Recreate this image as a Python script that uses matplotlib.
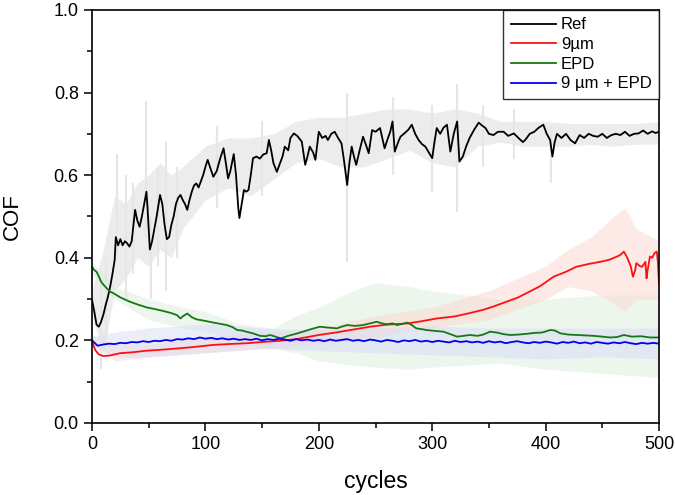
import matplotlib.pyplot as plt
from matplotlib.ticker import MultipleLocator

plt.rcParams['font.family'] = ['Liberation Sans', 'DejaVu Sans']

# ---- Ref (black) ----
ref_x = [0, 2, 4, 6, 8, 10, 12, 14, 16, 18, 20, 21, 23, 25, 27, 29, 31, 33, 35, 37,
         38, 40, 42, 44, 46, 48, 49, 51, 53, 55, 57, 60, 62, 64, 66, 68, 70, 72, 74, 76,
         78, 80, 82, 84, 86, 88, 90, 92, 94, 96, 98, 100, 102, 104, 107, 110, 113, 116, 118, 120,
         122, 125, 127, 129, 130, 132, 134, 136, 138, 140, 142, 145, 148, 151, 154, 156, 158, 160, 163, 166,
         168, 170, 173, 175, 178, 181, 185, 188, 190, 192, 195, 197, 200, 203, 206, 208, 211, 214, 217, 220,
         222, 225, 227, 229, 231, 233, 236, 239, 242, 244, 247, 250, 254, 256, 258, 261, 263, 265, 267, 270,
         272, 275, 279, 282, 285, 288, 291, 294, 297, 300, 302, 304, 307, 310, 313, 316, 319, 322, 324, 327,
         330, 333, 337, 341, 344, 347, 350, 354, 358, 363, 367, 372, 376, 380, 382, 386, 390, 394, 398, 401,
         404, 406, 408, 410, 414, 418, 422, 426, 430, 434, 438, 442, 446, 450, 454, 458, 462, 466, 470, 474,
         478, 482, 486, 490, 494, 497, 500]
ref_y = [0.298, 0.27, 0.238, 0.233, 0.245, 0.262, 0.285, 0.305, 0.33, 0.36, 0.395, 0.45, 0.43, 0.445, 0.43, 0.44, 0.435, 0.427, 0.44, 0.49,
         0.516, 0.49, 0.475, 0.50, 0.53, 0.56, 0.52, 0.42, 0.44, 0.47, 0.50, 0.552, 0.53, 0.48, 0.445, 0.45, 0.48, 0.50, 0.53, 0.545,
         0.552, 0.54, 0.53, 0.516, 0.54, 0.56, 0.575, 0.58, 0.57, 0.585, 0.60, 0.62, 0.637, 0.62, 0.596, 0.61, 0.64, 0.665, 0.63, 0.592,
         0.61, 0.651, 0.60, 0.52, 0.496, 0.53, 0.564, 0.56, 0.564, 0.60, 0.641, 0.645, 0.64, 0.65, 0.653, 0.685, 0.66, 0.629, 0.608, 0.63,
         0.645, 0.669, 0.66, 0.69, 0.701, 0.695, 0.681, 0.625, 0.645, 0.669, 0.655, 0.637, 0.705, 0.69, 0.695, 0.685, 0.70, 0.705, 0.69, 0.677,
         0.64, 0.576, 0.63, 0.669, 0.645, 0.625, 0.66, 0.693, 0.67, 0.653, 0.709, 0.705, 0.714, 0.69, 0.665, 0.69, 0.705, 0.73, 0.657, 0.68,
         0.693, 0.70, 0.71, 0.722, 0.70, 0.685, 0.675, 0.669, 0.655, 0.641, 0.68, 0.714, 0.70, 0.715, 0.722, 0.657, 0.70, 0.73, 0.633, 0.645,
         0.67, 0.69, 0.71, 0.727, 0.72, 0.714, 0.70, 0.697, 0.705, 0.705, 0.695, 0.701, 0.69, 0.68, 0.685, 0.70, 0.705, 0.715, 0.722, 0.70,
         0.685, 0.645, 0.68, 0.70, 0.69, 0.70, 0.685, 0.677, 0.697, 0.69, 0.70, 0.695, 0.693, 0.70, 0.69, 0.697, 0.70, 0.697, 0.705, 0.695,
         0.70, 0.701, 0.708, 0.70, 0.706, 0.702, 0.705]

ref_bx = [0, 10, 20, 30, 40, 50, 60, 70, 80, 100, 120, 140, 160, 180, 200, 220, 240, 260, 280, 300,
          320, 340, 360, 380, 400, 420, 440, 460, 480, 500]
ref_lo = [0.26, 0.17, 0.32, 0.35, 0.40, 0.38, 0.42, 0.40, 0.47, 0.54, 0.57, 0.55, 0.59, 0.63, 0.64, 0.62, 0.62, 0.64, 0.66, 0.63,
          0.62, 0.67, 0.68, 0.67, 0.67, 0.67, 0.675, 0.67, 0.675, 0.675]
ref_hi = [0.32, 0.42, 0.55, 0.53, 0.58, 0.60, 0.63, 0.60, 0.62, 0.67, 0.69, 0.69, 0.70, 0.73, 0.74, 0.74, 0.75, 0.76, 0.76, 0.75,
          0.76, 0.75, 0.73, 0.73, 0.73, 0.725, 0.725, 0.725, 0.725, 0.73]

# single error-bar spikes of the Ref series
spike_x = [8, 12, 22, 30, 36, 48, 52, 58, 65, 75, 110, 150, 225, 265, 300, 322, 345, 372, 405]
spike_lo = [0.13, 0.20, 0.40, 0.30, 0.36, 0.45, 0.30, 0.38, 0.32, 0.40, 0.52, 0.55, 0.39, 0.60, 0.56, 0.51, 0.62, 0.64, 0.58]
spike_hi = [0.35, 0.40, 0.65, 0.60, 0.58, 0.78, 0.50, 0.62, 0.68, 0.62, 0.72, 0.73, 0.80, 0.79, 0.77, 0.82, 0.77, 0.76, 0.72]

# ---- 9 um (red) ----
red_x = [0, 3, 6, 10, 15, 25, 35, 48, 60, 78, 90, 107, 120, 136, 150, 166, 180, 200, 215, 230,
         245, 260, 278, 290, 304, 320, 333, 345, 354, 365, 375, 383, 395, 407, 418, 427, 438, 448, 456, 463,
         466, 469, 472, 475, 477, 479, 480, 483, 485, 488, 489, 490, 492, 494, 496, 498, 499, 500]
red_y = [0.197, 0.176, 0.166, 0.162, 0.163, 0.169, 0.171, 0.175, 0.177, 0.181, 0.184, 0.189, 0.191, 0.193, 0.196, 0.199, 0.203, 0.213, 0.219, 0.226,
         0.233, 0.238, 0.241, 0.246, 0.253, 0.258, 0.266, 0.274, 0.282, 0.293, 0.303, 0.314, 0.331, 0.354, 0.366, 0.378, 0.385, 0.39, 0.395, 0.403,
         0.407, 0.415, 0.40, 0.38, 0.354, 0.37, 0.387, 0.38, 0.378, 0.39, 0.35, 0.37, 0.403, 0.40, 0.411, 0.415, 0.39, 0.338]
red_bx = [0, 20, 50, 100, 150, 200, 250, 300, 350, 400, 420, 440, 460, 470, 480, 500]
red_lo = [0.19, 0.15, 0.16, 0.17, 0.18, 0.19, 0.21, 0.23, 0.25, 0.30, 0.33, 0.32, 0.29, 0.27, 0.30, 0.30]
red_hi = [0.21, 0.19, 0.19, 0.21, 0.22, 0.23, 0.26, 0.28, 0.32, 0.38, 0.42, 0.45, 0.50, 0.52, 0.47, 0.44]

# ---- EPD (green) ----
grn_x = [0, 2, 4, 6, 8, 10, 13, 16, 19, 25, 33, 40, 48, 55, 63, 70, 75, 78, 80, 84, 88, 92, 100, 107, 113, 119,
         124, 128, 132, 136, 142, 148, 153, 157, 163, 166, 169, 173, 180, 186, 193, 201, 208, 216, 220, 225, 232,
         239, 245, 251, 256, 260, 265, 269, 274, 278, 282, 286, 291, 295, 302, 310, 316, 322, 328, 333, 340, 345,
         351, 357, 363, 369, 376, 384, 390, 397, 404, 408, 413, 420, 428, 435, 442, 450, 457, 463, 469, 476, 484,
         492, 500]
grn_y = [0.378, 0.37, 0.366, 0.355, 0.342, 0.335, 0.326, 0.318, 0.314, 0.304, 0.294, 0.287, 0.28, 0.276, 0.271, 0.266, 0.261, 0.253, 0.258, 0.265, 0.256, 0.251, 0.247, 0.243, 0.24, 0.237,
         0.232, 0.225, 0.224, 0.221, 0.217, 0.211, 0.21, 0.213, 0.208, 0.205, 0.207, 0.211, 0.216, 0.221, 0.227, 0.233, 0.231, 0.229, 0.233, 0.237, 0.235,
         0.237, 0.241, 0.245, 0.241, 0.239, 0.241, 0.237, 0.24, 0.243, 0.237, 0.229, 0.227, 0.225, 0.223, 0.221, 0.215, 0.209, 0.211, 0.213, 0.211, 0.214,
         0.221, 0.219, 0.215, 0.213, 0.214, 0.216, 0.218, 0.219, 0.225, 0.224, 0.217, 0.214, 0.213, 0.212, 0.211, 0.209, 0.207, 0.208, 0.213, 0.209, 0.21,
         0.207, 0.207]
grn_bx = [0, 20, 50, 80, 100, 130, 160, 180, 200, 230, 250, 280, 300, 330, 360, 400, 450, 500]
grn_lo = [0.36, 0.30, 0.25, 0.23, 0.22, 0.20, 0.18, 0.17, 0.15, 0.14, 0.135, 0.13, 0.135, 0.14, 0.145, 0.13, 0.12, 0.11]
grn_hi = [0.39, 0.33, 0.30, 0.28, 0.27, 0.24, 0.23, 0.26, 0.28, 0.32, 0.34, 0.33, 0.32, 0.31, 0.30, 0.30, 0.31, 0.31]

# ---- 9 um + EPD (blue) ----
blu_x = list(range(0, 505, 5))
blu_y = [0.20, 0.187, 0.19, 0.192, 0.191, 0.194, 0.193, 0.196, 0.195, 0.198, 0.196, 0.199, 0.198, 0.201, 0.199, 0.203, 0.202, 0.205, 0.203, 0.207,
         0.204, 0.206, 0.203, 0.205, 0.202, 0.204, 0.201, 0.203, 0.201, 0.204, 0.200, 0.203, 0.201, 0.204, 0.202, 0.199, 0.203, 0.200, 0.202, 0.199,
         0.201, 0.198, 0.202, 0.199, 0.201, 0.203, 0.199, 0.201, 0.198, 0.202, 0.200, 0.197, 0.201, 0.199, 0.196, 0.200, 0.198, 0.201, 0.197, 0.199,
         0.196, 0.199, 0.197, 0.195, 0.199, 0.196, 0.198, 0.195, 0.197, 0.194, 0.198, 0.195, 0.197, 0.193, 0.196, 0.198, 0.195, 0.193, 0.196, 0.194,
         0.197, 0.195, 0.192, 0.196, 0.194, 0.197, 0.193, 0.195, 0.192, 0.196, 0.194, 0.192, 0.195, 0.193, 0.196, 0.193, 0.191, 0.194, 0.192, 0.194,
         0.192]
blu_bx = [0, 20, 50, 100, 150, 200, 250, 300, 350, 400, 450, 500]
blu_lo = [0.19, 0.16, 0.16, 0.17, 0.18, 0.175, 0.17, 0.165, 0.16, 0.155, 0.16, 0.155]
blu_hi = [0.21, 0.22, 0.23, 0.24, 0.23, 0.225, 0.23, 0.235, 0.23, 0.23, 0.23, 0.23]

fig = plt.figure(figsize=(6.75, 4.95), dpi=100)
ax = fig.add_axes([0.1363, 0.1455, 0.84, 0.8345])

# error bands
ax.fill_between(ref_bx, ref_lo, ref_hi, color='#ececec', lw=0)
ax.vlines(spike_x, spike_lo, spike_hi, color='#e6e6e6', lw=1.5)
ax.fill_between(grn_bx, grn_lo, grn_hi, color='#dcefdc', alpha=0.5, lw=0)
ax.fill_between(red_bx, red_lo, red_hi, color='#fcd6cf', alpha=0.5, lw=0)
ax.fill_between(blu_bx, blu_lo, blu_hi, color='#d8dcf5', alpha=0.5, lw=0)

ax.plot(ref_x, ref_y, color='black', lw=1.3, label='Ref')
ax.plot(red_x, red_y, color='#ff1010', lw=1.3, label='9\u00b5m')
ax.plot(grn_x, grn_y, color='#137a13', lw=1.3, label='EPD')
ax.plot(blu_x, blu_y, color='#0000ee', lw=1.3, label='9 \u00b5m + EPD')

ax.set_xlim(0, 500)
ax.set_ylim(0, 1.0)
ax.xaxis.set_major_locator(MultipleLocator(100))
ax.xaxis.set_minor_locator(MultipleLocator(50))
ax.yaxis.set_major_locator(MultipleLocator(0.2))
ax.yaxis.set_minor_locator(MultipleLocator(0.1))
ax.yaxis.set_major_formatter(plt.FormatStrFormatter('%.1f'))
ax.tick_params(which='major', direction='out', length=6, width=1.1, labelsize=13)
ax.tick_params(which='minor', direction='out', length=3.5, width=1.1)
for s in ax.spines.values():
    s.set_linewidth(1.2)

ax.set_xlabel('cycles', fontsize=16.5, labelpad=12)
ax.set_ylabel('COF', fontsize=16, labelpad=22)

leg = ax.legend(loc='upper right', fontsize=12, frameon=True, fancybox=False,
                borderaxespad=0, handlelength=2.7, handletextpad=0.3,
                labelspacing=0.28, borderpad=0.45)
leg.get_frame().set_edgecolor('black')
leg.get_frame().set_linewidth(1.0)

fig.savefig('out.png', dpi=100)
